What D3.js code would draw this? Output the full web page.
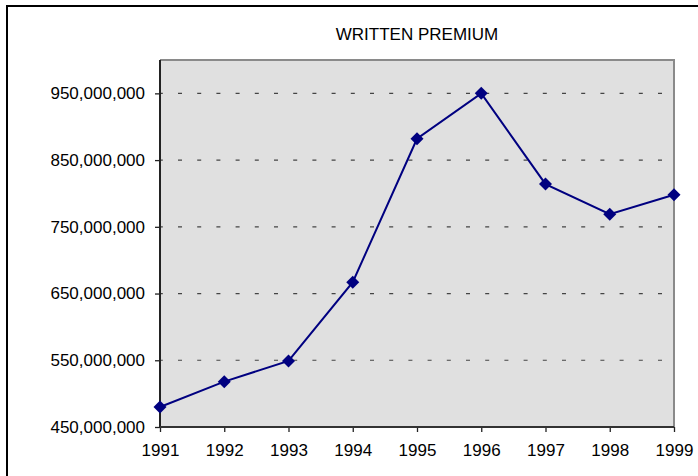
<!DOCTYPE html>
<html>
<head>
<meta charset="utf-8">
<script src="https://cdnjs.cloudflare.com/ajax/libs/d3/7.8.5/d3.min.js"></script>
<style>
  body { margin: 0; background: #fff; }
  text { font-family: "Liberation Sans", Arial, sans-serif; fill: #000; }
</style>
</head>
<body>
<div id="chart"></div>
<script>
// data
var years = [1991, 1992, 1993, 1994, 1995, 1996, 1997, 1998, 1999];
var premium = [480000000, 518000000, 549000000, 667000000, 882000000, 950000000, 814000000, 769000000, 798000000];
var yTicks = [450000000, 550000000, 650000000, 750000000, 850000000, 950000000];
var gridValues = [550000000, 650000000, 750000000, 850000000, 950000000];

var W = 698, H = 476;
var margin = {top: 60, right: 24, bottom: 49, left: 160},
    width = W - margin.left - margin.right,
    height = H - margin.top - margin.bottom;

var root = d3.select("#chart").append("svg")
    .attr("width", W)
    .attr("height", H);

// outer chart border (left + top visible)
root.append("path")
    .attr("d", "M7," + H + " L7,6 L" + W + ",6")
    .attr("fill", "none")
    .attr("stroke", "#000")
    .attr("stroke-width", 2);

root.append("text")
    .attr("x", margin.left + width / 2)
    .attr("y", 40)
    .attr("text-anchor", "middle")
    .style("font-size", "17px")
    .text("WRITTEN PREMIUM");

var svg = root.append("g")
    .attr("transform", "translate(" + margin.left + "," + margin.top + ")");

var x = d3.scalePoint()
    .domain(years)
    .range([0, width]);

var y = d3.scaleLinear()
    .domain([450000000, 1000000000])
    .range([height, 0]);

// plot area
svg.append("rect")
    .attr("width", width)
    .attr("height", height)
    .attr("fill", "#e0e0e0");

// top + right frame
svg.append("path")
    .attr("d", "M0,0 L" + width + ",0 L" + width + "," + height)
    .attr("fill", "none")
    .attr("stroke", "#8a8a8a")
    .attr("stroke-width", 2);

// dashed gridlines
svg.append("g")
  .selectAll("line")
  .data(gridValues)
  .enter()
    .append("line")
    .attr("x1", 0)
    .attr("x2", width)
    .attr("y1", function(d) { return y(d); })
    .attr("y2", function(d) { return y(d); })
    .attr("stroke", "#444")
    .attr("stroke-width", 1.2)
    .attr("stroke-dasharray", "4,15.2")
    .attr("stroke-dashoffset", -18);

// Y axis
var yAxis = svg.append("g")
    .call(d3.axisLeft(y).tickValues(yTicks).tickSize(5).tickPadding(10)
      .tickFormat(d3.format(",")));
yAxis.select(".domain").remove();
yAxis.selectAll(".tick line").attr("stroke", "#222").attr("stroke-width", 1.3);
yAxis.selectAll("text").style("font-size", "17px").attr("fill", "#000");
svg.append("line")
    .attr("x1", 0).attr("x2", 0).attr("y1", 0).attr("y2", height)
    .attr("stroke", "#222").attr("stroke-width", 2);

// X axis
var xAxis = svg.append("g")
    .attr("transform", "translate(0," + height + ")")
    .call(d3.axisBottom(x).tickSize(5).tickPadding(12));
xAxis.select(".domain").remove();
xAxis.selectAll(".tick line").attr("stroke", "#222").attr("stroke-width", 1.3);
xAxis.selectAll("text").style("font-size", "17px").attr("fill", "#000");
svg.append("line")
    .attr("x1", 0).attr("x2", width).attr("y1", height).attr("y2", height)
    .attr("stroke", "#333").attr("stroke-width", 2);

var pts = years.map(function(yr, i) { return {year: yr, value: premium[i]}; });

// the line
svg.append("path")
    .datum(pts)
    .attr("fill", "none")
    .attr("stroke", "#000080")
    .attr("stroke-width", 2)
    .attr("d", d3.line()
      .x(function(d) { return x(d.year); })
      .y(function(d) { return y(d.value); }));

// diamond markers
svg.append("g")
  .selectAll("path")
  .data(pts)
  .enter()
    .append("path")
    .attr("transform", function(d) { return "translate(" + x(d.year) + "," + y(d.value) + ")"; })
    .attr("d", "M0,-6.5 L6.5,0 L0,6.5 L-6.5,0 Z")
    .attr("fill", "#000080");
</script>
</body>
</html>
